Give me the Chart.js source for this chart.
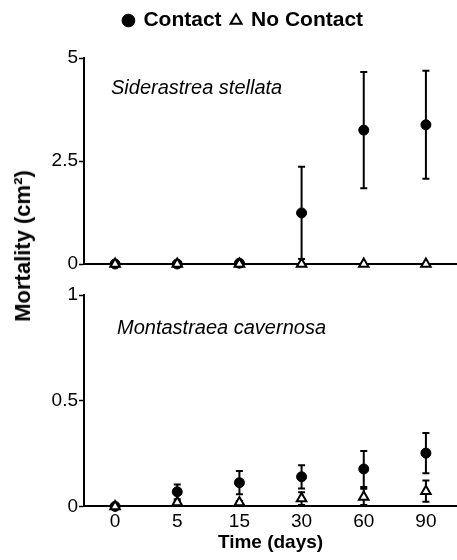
<!DOCTYPE html>
<html>
<head>
<meta charset="utf-8">
<script src="https://cdn.jsdelivr.net/npm/chart.js@4.4.1/dist/chart.umd.min.js"></script>
<style>
  body { margin: 0; background: #fff; }
  #wrap { position: relative; width: 457px; height: 560px; }
  #topBox { position: absolute; left: 0; top: 0; width: 457px; height: 285px; }
  #botBox { position: absolute; left: 0; top: 282px; width: 457px; height: 278px; }
  #yTitle {
    position: absolute; left: 23px; top: 246px;
    transform: translate(-50%, -50%) rotate(-90deg);
    font: bold 22px "Liberation Sans", Arial, sans-serif;
    white-space: nowrap; color: #000;
  }
</style>
</head>
<body>
<div id="wrap">
  <div id="topBox"><canvas id="topChart"></canvas></div>
  <div id="botBox"><canvas id="botChart"></canvas></div>
  <div id="yTitle">Mortality (cm²)</div>
</div>
<script>
const days = ["0", "5", "15", "30", "60", "90"];

// Siderastrea stellata
const sidContact = [0, 0, 0.02, 1.24, 3.25, 3.38];
const sidContactErr = [0, 0, 0.02, 1.12, 1.41, 1.31];
const sidNoContact = [0, 0, 0, 0, 0, 0];
const sidNoContactErr = [0, 0, 0, 0, 0, 0];

// Montastraea cavernosa
const monContact = [0, 0.069, 0.112, 0.14, 0.177, 0.252];
const monContactErr = [0, 0.035, 0.055, 0.055, 0.085, 0.095];
const monNoContact = [0, 0.018, 0.018, 0.037, 0.045, 0.072];
const monNoContactErr = [0, 0.008, 0.008, 0.03, 0.038, 0.05];

const FONT = '"Liberation Sans", Arial, sans-serif';

// draws vertical error bars under the points
const errorBars = {
    id: "errorBars",
    beforeDatasetsDraw(chart) {
        const ctx = chart.ctx;
        const yScale = chart.scales.y;
        ctx.save();
        ctx.strokeStyle = "#000";
        ctx.lineWidth = 2;
        chart.data.datasets.forEach((ds, di) => {
            if (!ds.errors) return;
            const meta = chart.getDatasetMeta(di);
            ds.data.forEach((v, i) => {
                const e = ds.errors[i];
                if (!e) return;
                const x = meta.data[i].x;
                const yHi = yScale.getPixelForValue(v + e);
                const yLo = yScale.getPixelForValue(Math.max(0, v - e));
                ctx.beginPath();
                ctx.moveTo(x, yHi);
                ctx.lineTo(x, yLo);
                ctx.moveTo(x - 3.5, yHi);
                ctx.lineTo(x + 3.5, yHi);
                if (v - e > 0) {
                    ctx.moveTo(x - 3.5, yLo);
                    ctx.lineTo(x + 3.5, yLo);
                }
                ctx.stroke();
            });
        });
        ctx.restore();
    },
};

// species name inside each panel
const panelLabel = {
    id: "panelLabel",
    afterDraw(chart, args, opts) {
        const { ctx, chartArea } = chart;
        ctx.save();
        ctx.font = "italic 20px " + FONT;
        ctx.fillStyle = "#000";
        ctx.textBaseline = "middle";
        ctx.fillText(opts.text, chartArea.left + opts.dx, chartArea.top + opts.dy);
        ctx.restore();
    },
};

// extra room under the legend
const legendGap = {
    id: "legendGap",
    beforeInit(chart) {
        if (!chart.legend) return;
        const fit = chart.legend.fit;
        chart.legend.fit = function () {
            fit.bind(chart.legend)();
            this.height += 17;
        };
    },
};

function makeDatasets(contact, contactErr, noContact, noContactErr) {
    return [
        {
            label: "Contact",
            data: contact,
            errors: contactErr,
            order: 1,
            showLine: false,
            pointStyle: "circle",
            pointRadius: 5,
            pointBackgroundColor: "#000",
            pointBorderColor: "#000",
            pointBorderWidth: 1,
            backgroundColor: "#000",
            borderColor: "#000",
            clip: false,
        },
        {
            label: "No Contact",
            data: noContact,
            errors: noContactErr,
            order: 0,
            showLine: false,
            pointStyle: "triangle",
            pointRadius: 5.5,
            pointBackgroundColor: "#fff",
            pointBorderColor: "#000",
            pointBorderWidth: 2,
            backgroundColor: "#fff",
            borderColor: "#000",
            borderWidth: 2,
            clip: false,
        },
    ];
}

function yAxis(max, step) {
    return {
        min: 0,
        max: max,
        afterFit: (scale) => { scale.width = 51; },
        border: { color: "#000", width: 2 },
        grid: { drawOnChartArea: false, tickLength: 5, color: "#000", tickWidth: 1.5 },
        ticks: {
            stepSize: step,
            padding: 1,
            color: "#000",
            font: { family: FONT, size: 19 },
            callback: (v) => String(v),
        },
    };
}

new Chart(document.getElementById("topChart"), {
    type: "line",
    data: {
        labels: days,
        datasets: makeDatasets(sidContact, sidContactErr, sidNoContact, sidNoContactErr),
    },
    options: {
        responsive: true,
        maintainAspectRatio: false,
        animation: false,
        layout: { autoPadding: false, padding: { left: 30, right: 0, top: 0, bottom: 21 } },
        scales: {
            x: {
                offset: true,
                border: { color: "#000", width: 2 },
                grid: { display: false, drawTicks: false },
                ticks: { display: false },
            },
            y: {
                ...yAxis(5, 2.5),
                afterFit: (scale) => { scale.width = 54; },
            },
        },
        plugins: {
            legend: {
                position: "top",
                labels: {
                    usePointStyle: true,
                    boxWidth: 9,
                    boxHeight: 9,
                    padding: 10,
                    color: "#000",
                    font: { family: FONT, size: 21, weight: "bold" },
                    sort: (a, b) => a.datasetIndex - b.datasetIndex,
                },
            },
            tooltip: { enabled: false },
            panelLabel: { text: "Siderastrea stellata", dx: 27, dy: 30 },
        },
    },
    plugins: [errorBars, panelLabel, legendGap],
});

new Chart(document.getElementById("botChart"), {
    type: "line",
    data: {
        labels: days,
        datasets: makeDatasets(monContact, monContactErr, monNoContact, monNoContactErr),
    },
    options: {
        responsive: true,
        maintainAspectRatio: false,
        animation: false,
        layout: { autoPadding: false, padding: { left: 33, right: 0, top: 13, bottom: 6 } },
        scales: {
            x: {
                offset: true,
                border: { color: "#000", width: 2 },
                grid: { display: false, drawTicks: false },
                ticks: { padding: 4, color: "#000", font: { family: FONT, size: 19 } },
                title: {
                    display: true,
                    text: "Time (days)",
                    color: "#000",
                    padding: { top: -6, bottom: 0 },
                    font: { family: FONT, size: 19, weight: "bold" },
                },
            },
            y: yAxis(1, 0.5),
        },
        plugins: {
            legend: { display: false },
            tooltip: { enabled: false },
            panelLabel: { text: "Montastraea cavernosa", dx: 33, dy: 33 },
        },
    },
    plugins: [errorBars, panelLabel],
});
</script>
</body>
</html>
